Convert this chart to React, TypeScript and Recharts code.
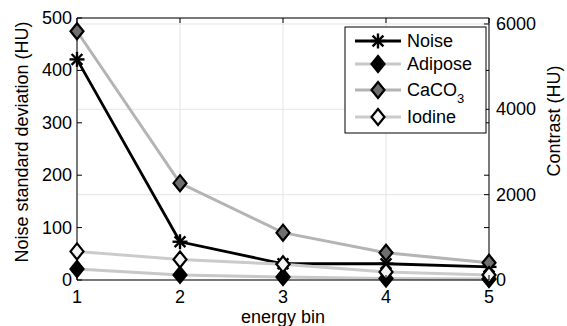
import React from "react";
import {
  ComposedChart,
  Line,
  XAxis,
  YAxis,
  CartesianGrid,
  ReferenceLine,
} from "recharts";

const bins = [1, 2, 3, 4, 5];
const noise = [421, 73, 31, 31, 25];
const adipose = [259, 120, 70, 35, 24];
const caco3 = [5830, 2270, 1110, 640, 405];
const iodine = [670, 480, 370, 190, 118];

const leftTicks = [0, 100, 200, 300, 400, 500];
const rightTicks = [0, 2000, 4000, 6000];

const data = bins.map((bin, i) => ({
  bin,
  noise: noise[i],
  adipose: adipose[i],
  caco3: caco3[i],
  iodine: iodine[i],
}));

const FONT = "'Liberation Sans', Arial, sans-serif";
const W = 567;
const H = 326;
const PLOT_TOP = 18;
const PLOT_RIGHT = 489;
const PLOT_BOTTOM = 280;
const PLOT_LEFT = 77;

type MarkerKind = "star" | "diamond";

const series = [
  { key: "noise", name: "Noise", axis: "left", line: "#000000", width: 2.8, marker: "star" as MarkerKind, fill: "#000" },
  { key: "adipose", name: "Adipose", axis: "right", line: "#c8c8c8", width: 3, marker: "diamond" as MarkerKind, fill: "#000" },
  { key: "caco3", name: "CaCO", sub: "3", axis: "right", line: "#b4b4b4", width: 3, marker: "diamond" as MarkerKind, fill: "#6e6e6e" },
  { key: "iodine", name: "Iodine", axis: "right", line: "#cbcbcb", width: 3, marker: "diamond" as MarkerKind, fill: "#f4f4f4" },
];

function Marker({ cx, cy, kind, fill }: { cx: number; cy: number; kind: MarkerKind; fill: string }) {
  if (kind === "star") {
    const r = 7.5;
    const d = r * 0.72;
    return (
      <g stroke="#000" strokeWidth={2.4}>
        <line x1={cx - r} y1={cy} x2={cx + r} y2={cy} />
        <line x1={cx} y1={cy - r} x2={cx} y2={cy + r} />
        <line x1={cx - d} y1={cy - d} x2={cx + d} y2={cy + d} />
        <line x1={cx - d} y1={cy + d} x2={cx + d} y2={cy - d} />
      </g>
    );
  }
  const hw = 6.5;
  const hh = 8;
  return (
    <path
      d={`M${cx},${cy - hh} L${cx + hw},${cy} L${cx},${cy + hh} L${cx - hw},${cy} Z`}
      fill={fill}
      stroke="#000"
      strokeWidth={2.2}
      strokeLinejoin="miter"
    />
  );
}

const LeftTick = (props: any) => {
  const { x, y, payload } = props;
  return (
    <g>
      <line x1={PLOT_LEFT} y1={y} x2={PLOT_LEFT + 5} y2={y} stroke="#000" />
      {payload.value > 0 && payload.value < 500 && (
        <line x1={PLOT_RIGHT} y1={y} x2={PLOT_RIGHT - 5} y2={y} stroke="#000" />
      )}
      <text x={x - 3} y={y + 6} textAnchor="end" fontSize={18} fontFamily={FONT} fill="#000">
        {payload.value}
      </text>
    </g>
  );
};

const RightTick = (props: any) => {
  const { x, y, payload } = props;
  return (
    <g>
      <line x1={PLOT_RIGHT} y1={y} x2={PLOT_RIGHT - 5} y2={y} stroke="#000" />
      <text x={x + 5} y={y + 6} textAnchor="start" fontSize={18} fontFamily={FONT} fill="#000">
        {payload.value}
      </text>
    </g>
  );
};

const BottomTick = (props: any) => {
  const { x, y, payload } = props;
  return (
    <g>
      <line x1={x} y1={PLOT_BOTTOM} x2={x} y2={PLOT_BOTTOM - 5} stroke="#000" />
      <line x1={x} y1={PLOT_TOP} x2={x} y2={PLOT_TOP + 5} stroke="#000" />
      <text x={x} y={y + 21} textAnchor="middle" fontSize={18} fontFamily={FONT} fill="#000">
        {payload.value}
      </text>
    </g>
  );
};

function LegendBox() {
  const rows = [41, 64, 90, 117];
  return (
    <svg
      width={143}
      height={108}
      style={{ position: "absolute", left: 344, top: 26 }}
    >
      <rect x={1} y={1} width={141} height={106} fill="#fff" stroke="#000" strokeWidth={1} />
      {series.map((s, i) => {
        const cy = rows[i] - 26;
        return (
          <g key={s.key}>
            <line x1={11} y1={cy} x2={57} y2={cy} stroke={s.line} strokeWidth={s.width} />
            <Marker cx={34} cy={cy} kind={s.marker} fill={s.fill} />
            <text x={63} y={cy + 6} fontSize={18} fontFamily={FONT} fill="#000">
              {s.name}
              {s.sub && (
                <tspan fontSize={13} dy={7}>
                  {s.sub}
                </tspan>
              )}
            </text>
          </g>
        );
      })}
    </svg>
  );
}

export default function App() {
  return (
    <div style={{ position: "absolute", left: 0, top: 0, width: W, height: H, background: "#fff" }}>
      <ComposedChart width={W} height={H} data={data} margin={{ top: PLOT_TOP, right: 0, bottom: 0, left: 0 }}>
        <CartesianGrid yAxisId="right" stroke="#e4e4e4" strokeWidth={1} />
        <XAxis
          dataKey="bin"
          type="number"
          domain={[1, 5]}
          ticks={bins}
          height={H - PLOT_BOTTOM}
          tickSize={0}
          tickLine={false}
          axisLine={{ stroke: "#000" }}
          tick={<BottomTick />}
          label={(p: any) => (
            <text x={p.viewBox.x + p.viewBox.width / 2} y={H - 3} textAnchor="middle" fontSize={18} fontFamily={FONT} fill="#000">
              energy bin
            </text>
          )}
        />
        <YAxis
          yAxisId="left"
          orientation="left"
          domain={[0, 500]}
          ticks={leftTicks}
          width={PLOT_LEFT}
          tickSize={0}
          tickLine={false}
          axisLine={{ stroke: "#000" }}
          tick={<LeftTick />}
          label={(p: any) => {
            const cy = p.viewBox.y + p.viewBox.height / 2 - 7;
            return (
              <text x={22} y={cy} transform={`rotate(-90 22 ${cy})`} textAnchor="middle" dominantBaseline="central" fontSize={18} fontFamily={FONT} fill="#000">
                Noise standard deviation (HU)
              </text>
            );
          }}
        />
        <YAxis
          yAxisId="right"
          orientation="right"
          domain={[0, 6140]}
          ticks={rightTicks}
          width={W - PLOT_RIGHT}
          tickSize={0}
          tickLine={false}
          axisLine={{ stroke: "#000" }}
          tick={<RightTick />}
          label={(p: any) => {
            const cy = p.viewBox.y + p.viewBox.height / 2 - 28;
            return (
              <text x={554} y={cy} transform={`rotate(-90 554 ${cy})`} textAnchor="middle" dominantBaseline="central" fontSize={18} fontFamily={FONT} fill="#000">
                Contrast (HU)
              </text>
            );
          }}
        />
        <ReferenceLine yAxisId="left" y={500} stroke="#000" />
        {series.map((s) => (
          <Line
            key={s.key}
            yAxisId={s.axis}
            dataKey={s.key}
            name={s.name}
            type="linear"
            stroke={s.line}
            strokeWidth={s.width}
            isAnimationActive={false}
            dot={(p: any) => <Marker key={`${s.key}-${p.index}`} cx={p.cx} cy={p.cy} kind={s.marker} fill={s.fill} />}
            activeDot={false}
          />
        ))}
      </ComposedChart>
      <LegendBox />
    </div>
  );
}
